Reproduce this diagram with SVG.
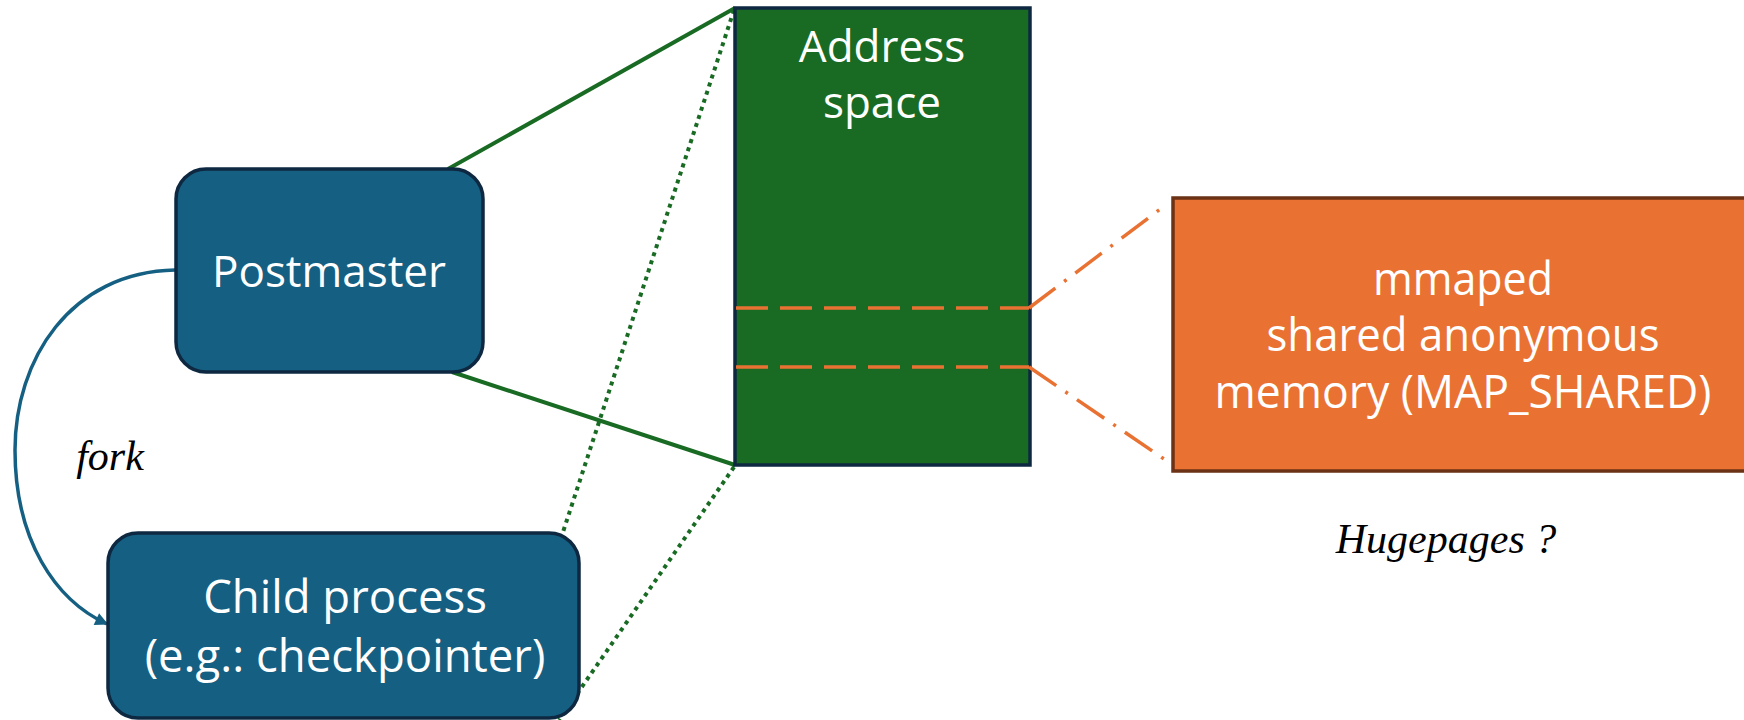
<svg xmlns="http://www.w3.org/2000/svg" width="1744" height="720" viewBox="0 0 1744 720">
<style>
.lbl{font-family:"Open Sans","Liberation Sans",sans-serif;font-size:44px;fill:#ffffff;text-anchor:middle}
.big{font-size:45.5px}
.org{font-size:46px}
.it{font-family:"Liberation Serif","Times New Roman",serif;font-style:italic;font-size:42px;fill:#000000;text-anchor:middle}
.proc{fill:#156082;stroke:#0E2841;stroke-width:3.5}
.g{stroke:#196B24;stroke-width:4;fill:none}
.gd{stroke:#196B24;stroke-width:4;fill:none;stroke-dasharray:4 4.5}
.od{stroke:#E97132;stroke-width:3.5;fill:none;stroke-dasharray:32 12}
.odd{stroke:#E97132;stroke-width:3.5;fill:none;stroke-dasharray:33 11 3 11}
</style>
<defs>
<marker id="arr" viewBox="0 0 10 10" refX="9" refY="5" markerWidth="14" markerHeight="13" orient="auto" markerUnits="userSpaceOnUse">
<path d="M0,0 L10,5 L0,10 z" fill="#156082"/>
</marker>
</defs>
<rect width="1744" height="720" fill="#ffffff"/>
<g id="connectors">
<line class="g" x1="448" y1="169" x2="735" y2="8"/>
<line class="g" x1="452" y1="372" x2="735" y2="465"/>
<line class="gd" x1="734" y1="10" x2="563" y2="532"/>
<line class="gd" x1="734" y1="467" x2="559" y2="720"/>
<path d="M175,270 C70,272 15,360 15,450 C15,540 55,600 107,624" fill="none" stroke="#156082" stroke-width="3.5" marker-end="url(#arr)"/>
</g>
<g id="postmaster">
<rect class="proc" x="176" y="169" width="307" height="203" rx="30"/>
<text class="lbl" x="329" y="287">Postmaster</text>
</g>
<g id="child">
<rect class="proc" x="108" y="533" width="471" height="185" rx="30"/>
<text class="lbl big" x="345" y="613">Child process</text>
<text class="lbl big" x="345" y="672">(e.g.: checkpointer)</text>
</g>
<g id="address-space">
<rect x="735" y="8" width="295" height="457" fill="#196B24" stroke="#0E2841" stroke-width="3.5"/>
<text class="lbl" x="882" y="62">Address</text>
<text class="lbl" x="882" y="118">space</text>
<line class="od" x1="736" y1="308" x2="1029" y2="308"/>
<line class="od" x1="736" y1="367" x2="1029" y2="367"/>
</g>
<g id="mapping">
<line class="odd" x1="1029" y1="308" x2="1163" y2="207"/>
<line class="odd" x1="1029" y1="367" x2="1167" y2="461"/>
</g>
<g id="shared-memory">
<rect x="1173" y="198" width="590" height="273" fill="#E97132" stroke="#6B3215" stroke-width="3.5"/>
<text class="lbl org" x="1463" y="295" textLength="180" lengthAdjust="spacingAndGlyphs">mmaped</text>
<text class="lbl org" x="1463" y="351" textLength="393" lengthAdjust="spacingAndGlyphs">shared anonymous</text>
<text class="lbl org" x="1463" y="408" textLength="497" lengthAdjust="spacingAndGlyphs">memory (MAP_SHARED)</text>
</g>
<text class="it" x="110" y="470">fork</text>
<text class="it" x="1446" y="553">Hugepages ?</text>
</svg>
